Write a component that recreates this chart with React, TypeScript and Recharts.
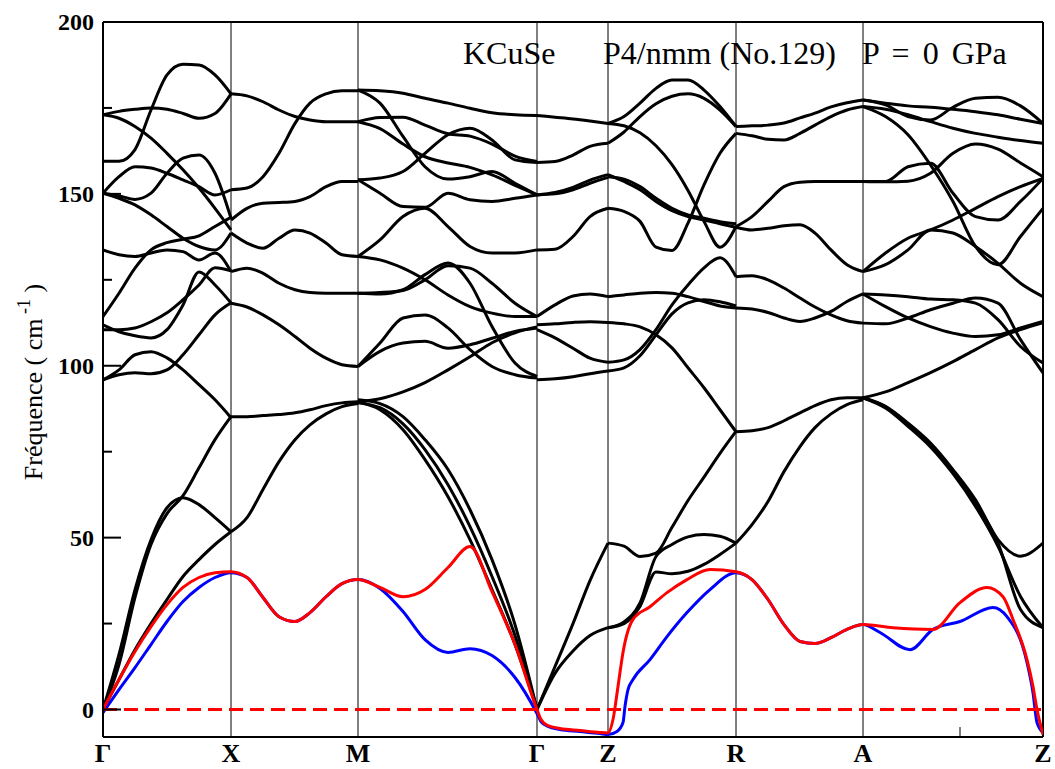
import React from 'react'
import { LineChart, Line, XAxis, YAxis, ReferenceLine } from 'recharts'

const W = 1055
const H = 769
const PLOT_LEFT = 103
const PLOT_BOTTOM = 737
const SERIF = '"Liberation Serif", "Times New Roman", serif'

// high-symmetry points along the q-path, plus one minor tick
const pathTicks = [0, 128, 255, 434, 505, 633, 760, 857, 940]
const pathLabels = ['Γ', 'X', 'M', 'Γ', 'Z', 'R', 'A', '', 'Z']
const symmetryLines = [128, 255, 434, 505, 633, 760]
const freqTicks = [0, 25, 50, 75, 100, 125, 150, 175, 200]

// q sampling per segment
const kGX = [0, 16, 32, 48, 64, 80, 96, 112, 128]
const kXM = [128, 144, 160, 176, 192, 207, 223, 239, 255]
const kMG = [255, 277, 300, 322, 345, 367, 389, 412, 434]
const kGZ = [434, 452, 470, 487, 505]
const kZR = [505, 521, 537, 553, 569, 585, 601, 617, 633]
const kRA = [633, 649, 665, 681, 697, 712, 728, 744, 760]
const kAZ = [760, 782.5, 805, 827.5, 850, 872.5, 895, 917.5, 940]

// branch frequencies (cm-1) on each segment
const bandsGX = [
  [173.0, 174.0, 174.6, 175.0, 174.6, 173.4, 172.0, 173.4, 179.1],
  [159.5, 159.5, 162.9, 174.4, 184.6, 187.7, 187.5, 184.6, 179.1],
  [173.0, 172.0, 169.6, 166.2, 161.8, 157.0, 151.7, 145.8, 139.5],
  [150.2, 155.0, 157.9, 157.5, 156.0, 154.1, 152.1, 149.7, 151.2],
  [150.2, 149.4, 148.4, 150.2, 156.0, 160.4, 161.3, 156.0, 142.9],
  [150.2, 148.7, 146.8, 143.9, 140.5, 137.1, 134.7, 133.7, 138.6],
  [133.7, 132.3, 131.8, 132.8, 133.7, 133.2, 130.8, 132.8, 127.4],
  [114.3, 121.1, 128.4, 133.7, 135.8, 136.8, 137.8, 140.5, 143.2],
  [111.9, 109.9, 108.7, 108.1, 110.5, 117.7, 127.3, 123.5, 118.3],
  [110.5, 110.5, 111.0, 112.8, 115.4, 119.2, 123.5, 128.5, 127.6],
  [95.9, 98.8, 103.2, 104.1, 102.3, 98.8, 94.5, 90.1, 84.9],
  [95.9, 97.4, 98.0, 97.7, 98.8, 103.2, 109.0, 114.8, 118.3],
  [0, 13.1, 32.6, 48.0, 57.0, 62.2, 70.3, 78.5, 85.2],
  [0, 16.0, 34.9, 49.4, 58.7, 61.6, 59.6, 55.8, 51.7],
  [0, 8.7, 17.4, 25.0, 32.0, 38.7, 43.6, 48.0, 51.7],
]

const bandsXM = [
  [179.1, 178.5, 176.8, 174.4, 172.5, 171.5, 171.0, 171.0, 171.0],
  [151.2, 151.7, 155.0, 161.8, 170.5, 176.4, 179.1, 180.0, 180.0],
  [142.4, 145.8, 147.3, 147.5, 147.8, 149.2, 152.1, 153.6, 153.6],
  [138.6, 135.7, 134.2, 137.1, 139.5, 138.6, 135.7, 132.3, 131.8],
  [127.4, 128.4, 126.9, 124.0, 122.1, 121.3, 121.1, 121.1, 121.1],
  [118.2, 117.1, 114.8, 111.9, 108.5, 105.1, 102.2, 100.3, 99.8],
  [85.2, 85.2, 85.5, 85.8, 86.3, 87.2, 88.4, 89.2, 89.5],
  [51.7, 55.8, 64.0, 72.1, 78.5, 82.8, 86.0, 88.1, 89.0],
]

const bandsMG = [
  [180.2, 180.0, 179.3, 177.8, 176.4, 174.9, 173.6, 173.0, 172.8],
  [180.2, 176.4, 166.7, 157.9, 154.3, 155.0, 156.5, 153.1, 149.7],
  [171.0, 172.2, 172.3, 170.0, 167.5, 166.8, 164.5, 161.0, 159.4],
  [171.0, 169.0, 164.5, 160.8, 159.0, 157.7, 155.5, 152.5, 149.7],
  [154.1, 154.6, 156.5, 161.8, 167.2, 169.1, 165.7, 159.9, 159.1],
  [154.1, 150.2, 146.3, 146.1, 150.2, 148.3, 147.8, 148.7, 149.7],
  [131.8, 136.6, 143.4, 145.8, 140.5, 134.7, 132.8, 132.8, 133.7],
  [131.8, 130.8, 128.4, 125.0, 120.6, 117.2, 115.3, 114.3, 114.3],
  [121.1, 121.3, 121.9, 125.0, 129.1, 128.4, 124.0, 118.2, 114.3],
  [121.1, 120.9, 122.1, 126.5, 129.9, 124.0, 111.4, 100.8, 96.9],
  [99.8, 106.6, 113.9, 114.8, 111.0, 104.7, 99.8, 97.4, 96.4],
  [99.8, 104.2, 106.6, 107.1, 105.1, 106.1, 108.0, 110.0, 111.0],
  [89.5, 90.4, 92.4, 95.1, 98.8, 102.6, 106.7, 109.6, 111.3],
  [89.5, 87.2, 81.4, 72.7, 61.9, 49.4, 34.9, 18.9, 0],
  [89.2, 87.8, 83.1, 75.6, 65.4, 53.2, 38.7, 21.5, 0],
  [90.1, 89.0, 85.2, 78.5, 69.8, 58.1, 43.6, 24.7, 0],
]

const bandsGZ = [
  [172.8, 172.3, 171.8, 171.2, 170.5],
  [159.1, 159.4, 161.3, 163.8, 164.7],
  [149.7, 150.0, 151.2, 153.1, 154.8],
  [149.7, 150.4, 151.9, 154.0, 155.6],
  [133.7, 133.9, 137.6, 143.4, 145.8],
  [114.3, 117.7, 120.3, 120.9, 120.1],
  [111.9, 112.2, 112.6, 112.8, 112.6],
  [110.5, 108.1, 105.1, 102.2, 101.0],
  [95.9, 96.2, 96.8, 97.7, 98.5],
  [0, 12.5, 25.0, 37.5, 48.4],
  [0, 10.5, 17.0, 21.5, 23.8],
]

const bandsZR = [
  [170.5, 172.5, 176.4, 180.7, 183.1, 183.1, 180.2, 175.4, 169.6],
  [164.7, 168.0, 172.5, 176.2, 178.4, 179.1, 177.8, 174.4, 169.6],
  [170.5, 169.8, 167.8, 164.0, 158.5, 151.0, 142.0, 134.5, 140.5],
  [145.8, 144.9, 142.0, 134.5, 133.5, 141.5, 152.6, 161.8, 167.6],
  [155.0, 154.3, 152.1, 148.7, 145.8, 143.9, 142.9, 141.9, 141.3],
  [155.6, 153.6, 151.2, 147.8, 145.1, 143.4, 142.4, 141.3, 140.3],
  [120.1, 120.6, 121.1, 121.3, 121.1, 120.1, 118.7, 117.4, 116.8],
  [112.6, 112.2, 111.3, 109.0, 105.2, 99.4, 93.6, 87.2, 80.8],
  [101.0, 101.7, 104.7, 110.5, 117.7, 123.5, 128.5, 131.4, 125.9],
  [98.5, 99.4, 102.9, 109.0, 115.1, 118.3, 119.2, 118.6, 117.4],
  [48.4, 47.5, 44.5, 45.5, 53.0, 60.8, 67.6, 74.5, 80.9],
  [23.8, 25.5, 31.0, 44.5, 48.0, 50.2, 50.9, 50.4, 48.4],
  [23.8, 25.0, 30.0, 40.0, 39.5, 40.2, 42.2, 45.1, 48.4],
]

const bandsRA = [
  [169.6, 169.8, 170.0, 170.6, 172.1, 173.5, 175.3, 176.5, 177.3],
  [167.6, 166.9, 165.9, 165.7, 167.6, 170.0, 172.5, 174.4, 175.4],
  [140.5, 143.4, 147.8, 152.1, 153.4, 153.6, 153.6, 153.6, 153.6],
  [140.3, 139.5, 140.0, 140.7, 141.0, 138.6, 133.7, 129.4, 127.4],
  [125.9, 126.2, 125.0, 122.6, 119.7, 117.1, 114.8, 113.1, 112.4],
  [116.8, 116.5, 115.5, 113.9, 112.9, 113.9, 115.8, 118.7, 120.9],
  [80.8, 81.1, 82.0, 84.0, 86.3, 88.4, 90.1, 90.7, 90.7],
  [48.4, 53.8, 60.5, 69.2, 76.5, 82.0, 86.0, 88.7, 90.1],
]

const bandsAZ = [
  [177.3, 176.4, 175.6, 175.2, 174.6, 173.9, 173.0, 171.7, 170.5],
  [177.3, 175.9, 172.5, 171.5, 175.2, 177.8, 178.1, 175.6, 170.5],
  [175.4, 174.6, 173.0, 171.0, 169.1, 167.6, 166.5, 165.5, 164.7],
  [175.4, 172.5, 167.2, 158.4, 147.8, 134.7, 129.4, 137.6, 145.8],
  [153.6, 153.6, 157.9, 158.9, 150.2, 143.4, 142.4, 147.8, 154.5],
  [153.6, 153.5, 153.7, 156.0, 161.8, 164.5, 163.0, 159.0, 155.0],
  [127.4, 132.8, 137.1, 139.5, 142.4, 145.8, 149.2, 152.1, 154.5],
  [127.4, 129.4, 133.7, 139.5, 138.6, 134.7, 129.8, 124.0, 120.1],
  [120.9, 120.6, 120.1, 119.4, 119.2, 118.2, 113.4, 105.6, 100.8],
  [112.4, 112.2, 113.9, 116.3, 118.2, 119.7, 118.2, 107.6, 97.9],
  [120.9, 117.2, 113.9, 111.4, 109.5, 108.5, 109.0, 111.0, 112.9],
  [90.7, 92.4, 95.1, 98.0, 101.2, 104.7, 108.1, 110.5, 112.5],
  [90.7, 88.2, 83.3, 77.5, 69.8, 61.0, 49.4, 44.6, 48.4],
  [90.7, 88.0, 82.8, 77.0, 69.3, 60.1, 48.4, 29.1, 23.8],
  [90.7, 87.7, 82.4, 76.4, 68.6, 59.1, 47.5, 32.9, 23.8],
]

// lowest two branches, highlighted ([q, freq])
const redBranch = [
  [0, 0], [16, 8.7], [32, 16.9], [48, 24.1], [64, 30.5], [80, 35.5], [96, 38.4], [112, 39.8], [128, 40.1],
  [144, 38.4], [160, 32.6], [176, 27.0], [192, 25.6], [207, 28.2], [223, 32.8], [239, 36.6], [255, 37.8],
  [277, 35.5], [300, 32.8], [322, 34.9], [345, 41.3], [367, 47.4], [389, 34.3], [412, 18.9], [434, 0],
  [438, -2.9], [445, -4.7], [457, -5.5], [477, -6.1], [497, -6.7], [505, -6.8],
  [510, -2.9], [515, 6.7], [520, 16.6], [530, 26.2], [547, 29.9], [564, 34.0], [584, 37.8], [607, 40.7], [633, 40.1],
  [649, 37.8], [665, 32.0], [681, 24.7], [697, 19.8], [712, 19.2], [728, 20.9], [744, 23.3], [760, 24.7],
  [790, 23.8], [830, 23.3], [857, 31.1], [884, 35.5], [900, 32.8], [910, 26.2], [924, 14.5], [930, 6.7], [934, 0], [940, -7.3],
]

const blueBranch = [
  [0, -0.9], [16, 5.8], [32, 12.2], [48, 18.9], [64, 25.6], [80, 31.4], [96, 35.5], [112, 38.4], [128, 39.8],
  [144, 38.4], [160, 32.6], [176, 27.0], [192, 25.6], [207, 28.2], [223, 32.8], [239, 36.6], [255, 37.8],
  [277, 35.2], [300, 28.5], [322, 20.3], [345, 16.6], [367, 17.7], [389, 15.7], [412, 9.3], [434, -1.2],
  [438, -3.5], [445, -4.9], [457, -5.8], [477, -6.4], [497, -7.0], [505, -7.3],
  [514, -6.4], [520, -3.8], [522, 0.9], [525, 5.8], [530, 8.7], [547, 14.5], [564, 21.2], [584, 28.2], [607, 34.9], [633, 39.8],
  [649, 37.8], [665, 32.0], [681, 24.7], [697, 19.8], [712, 19.2], [728, 20.9], [744, 23.3], [760, 24.7],
  [777, 22.4], [807, 17.4], [830, 23.3], [857, 25.6], [890, 29.7], [904, 27.0], [924, 13.7], [930, 4.9], [934, -3.8], [940, -6.7],
]

const segments = [
  { k: kGX, bands: bandsGX },
  { k: kXM, bands: bandsXM },
  { k: kMG, bands: bandsMG },
  { k: kGZ, bands: bandsGZ },
  { k: kZR, bands: bandsZR },
  { k: kRA, bands: bandsRA },
  { k: kAZ, bands: bandsAZ },
]

const blackSeries = segments.flatMap((seg, s) =>
  seg.bands.map((band, b) => ({
    id: `seg${s}-band${b}`,
    data: seg.k.map((k, i) => ({ k, f: band[i] })),
  }))
)

const toPoints = (branch: number[][]) => branch.map(([k, f]) => ({ k, f }))

function FreqTick({ y, payload }: any) {
  const v = payload.value
  const major = v % 50 === 0
  return (
    <g>
      <line x1={PLOT_LEFT} x2={PLOT_LEFT + (major ? 18 : 9)} y1={y} y2={y} stroke="#000" strokeWidth={2} />
      {major && (
        <text x={PLOT_LEFT - 9} y={y} dy="0.35em" textAnchor="end" fontFamily={SERIF} fontWeight="bold" fontSize={24} fill="#000">
          {v}
        </text>
      )}
    </g>
  )
}

function PathTick({ x, payload }: any) {
  const label = pathLabels[pathTicks.indexOf(payload.value)]
  if (!label) {
    return <line x1={x} x2={x} y1={PLOT_BOTTOM} y2={PLOT_BOTTOM - 10} stroke="#000" strokeWidth={1} />
  }
  return (
    <text x={x} y={PLOT_BOTTOM + 25} textAnchor="middle" fontFamily={SERIF} fontWeight="bold" fontSize={26} fill="#000">
      {label}
    </text>
  )
}

function FreqLabel() {
  return (
    <text transform="translate(42,382) rotate(-90)" textAnchor="middle" fontFamily={SERIF} fontSize={26} fill="#000">
      Fréquence ( cm
      <tspan dy={-12} fontSize={18}> -1</tspan>
      <tspan dy={12}> )</tspan>
    </text>
  )
}

export default function App() {
  return (
    <div style={{ position: 'absolute', left: 0, top: 0, width: W, height: H, background: '#fff' }}>
      <LineChart width={W} height={H} margin={{ top: 22, right: 12, bottom: 0, left: 0 }}>
        <XAxis
          dataKey="k"
          type="number"
          domain={[0, 940]}
          ticks={pathTicks}
          tick={<PathTick />}
          tickLine={false}
          axisLine={{ stroke: '#000', strokeWidth: 2 }}
          height={32}
          allowDataOverflow
        />
        <YAxis
          type="number"
          domain={[-8, 200]}
          ticks={freqTicks}
          tick={<FreqTick />}
          tickLine={false}
          axisLine={{ stroke: '#000', strokeWidth: 2 }}
          width={103}
          allowDataOverflow
          label={{ content: <FreqLabel /> }}
        />
        {symmetryLines.map((k) => (
          <ReferenceLine key={`v${k}`} x={k} stroke="#000" strokeWidth={1} />
        ))}
        <ReferenceLine y={200} stroke="#000" strokeWidth={2} />
        <ReferenceLine x={940} stroke="#000" strokeWidth={2} />
        {blackSeries.map((s) => (
          <Line
            key={s.id}
            data={s.data}
            dataKey="f"
            type="monotone"
            stroke="#000"
            strokeWidth={3}
            dot={false}
            isAnimationActive={false}
          />
        ))}
        <Line data={toPoints(blueBranch)} dataKey="f" type="monotone" stroke="#0000ff" strokeWidth={3} dot={false} isAnimationActive={false} />
        <Line data={toPoints(redBranch)} dataKey="f" type="monotone" stroke="#ff0000" strokeWidth={3} dot={false} isAnimationActive={false} />
        <ReferenceLine y={0} stroke="#ff0000" strokeWidth={3} strokeDasharray="14 7" />
        <text x={463} y={64} fontFamily={SERIF} fontSize={32} fill="#000">KCuSe</text>
        <text x={603} y={64} fontFamily={SERIF} fontSize={32} fill="#000">P4/nmm (No.129)</text>
        <text x={862} y={64} fontFamily={SERIF} fontSize={32} fill="#000" style={{ wordSpacing: 5 }}>P = 0 GPa</text>
      </LineChart>
    </div>
  )
}
